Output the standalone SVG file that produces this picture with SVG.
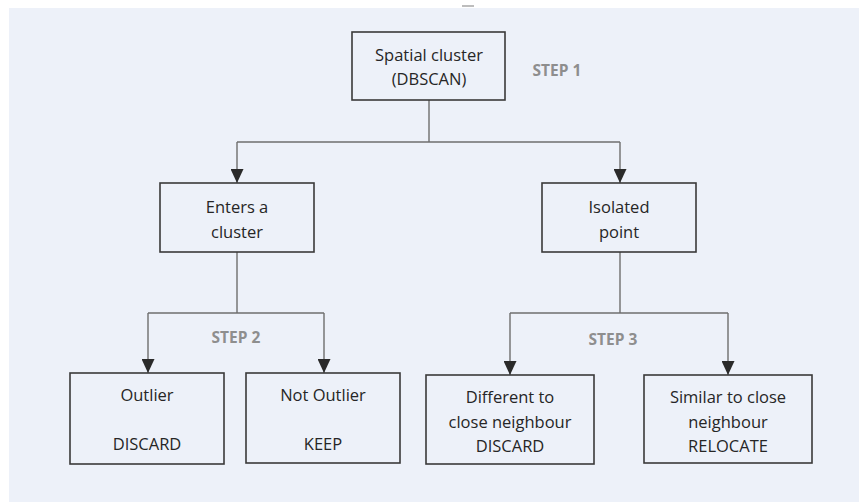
<svg xmlns="http://www.w3.org/2000/svg" width="859" height="502" viewBox="0 0 859 502">
<style>
.box{fill:#EDF1F9;stroke:#3A3A3A;stroke-width:1.6}
.t{font-family:"Open Sans","Liberation Sans",sans-serif;font-size:16.5px;fill:#262626;text-anchor:middle}
.s{font-family:"Open Sans","Liberation Sans",sans-serif;font-size:15.5px;font-weight:bold;fill:#8E8E8E;text-anchor:middle}
.c{fill:none;stroke:#6E6E6E;stroke-width:1.4}
</style>
<defs>
<marker id="ad" markerWidth="13" markerHeight="14" refX="6.5" refY="14" orient="0" markerUnits="userSpaceOnUse" viewBox="0 0 13 14">
<path d="M0,0 L13,0 L6.5,14 Z" fill="#2A2A2A"/>
</marker>
</defs>
<rect x="0" y="0" width="859" height="502" fill="#FFFFFF"/>
<rect x="9" y="8" width="850" height="494" fill="#EDF1F9"/>
<rect x="462" y="5" width="12" height="2" fill="#BDBDBD"/>
<g id="connectors">
<path class="c" d="M429,100 V142"/>
<path class="c" d="M237,142 H620"/>
<path class="c" d="M237,142 V183" marker-end="url(#ad)"/>
<path class="c" d="M620,142 V183" marker-end="url(#ad)"/>
<path class="c" d="M237,252 V313"/>
<path class="c" d="M148,313 H324"/>
<path class="c" d="M148,313 V373" marker-end="url(#ad)"/>
<path class="c" d="M324,313 V373" marker-end="url(#ad)"/>
<path class="c" d="M620,252 V313"/>
<path class="c" d="M510,313 H728"/>
<path class="c" d="M510,313 V375" marker-end="url(#ad)"/>
<path class="c" d="M728,313 V375" marker-end="url(#ad)"/>
</g>
<g id="n-spatial">
<rect class="box" x="352" y="32" width="153" height="68"/>
<text class="t" x="429" y="61">Spatial cluster</text>
<text class="t" x="429" y="85">(DBSCAN)</text>
</g>
<text class="s" x="557" y="76">STEP 1</text>
<g id="n-enters">
<rect class="box" x="160" y="183" width="154" height="69"/>
<text class="t" x="237" y="213">Enters a</text>
<text class="t" x="237" y="238">cluster</text>
</g>
<g id="n-isolated">
<rect class="box" x="542" y="183" width="154" height="69"/>
<text class="t" x="619" y="213">Isolated</text>
<text class="t" x="619" y="238">point</text>
</g>
<text class="s" x="236" y="343">STEP 2</text>
<text class="s" x="613" y="345">STEP 3</text>
<g id="n-outlier">
<rect class="box" x="70" y="373" width="154" height="91"/>
<text class="t" x="147" y="401">Outlier</text>
<text class="t" x="147" y="450">DISCARD</text>
</g>
<g id="n-notoutlier">
<rect class="box" x="246" y="373" width="154" height="90"/>
<text class="t" x="323" y="401">Not Outlier</text>
<text class="t" x="323" y="450">KEEP</text>
</g>
<g id="n-different">
<rect class="box" x="426" y="375" width="168" height="89"/>
<text class="t" x="510" y="403">Different to</text>
<text class="t" x="510" y="428">close neighbour</text>
<text class="t" x="510" y="452">DISCARD</text>
</g>
<g id="n-similar">
<rect class="box" x="644" y="375" width="168" height="88"/>
<text class="t" x="728" y="403">Similar to close</text>
<text class="t" x="728" y="428">neighbour</text>
<text class="t" x="728" y="452">RELOCATE</text>
</g>
</svg>
